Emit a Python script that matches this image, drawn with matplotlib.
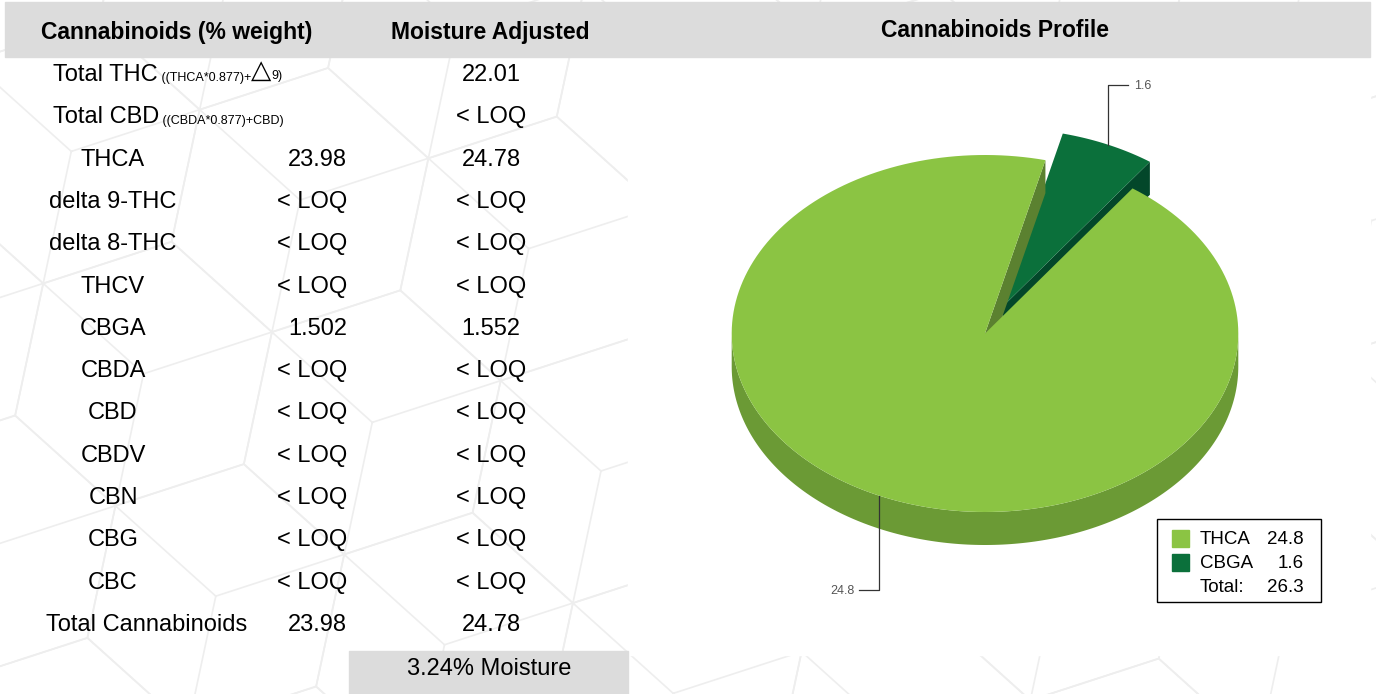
import numpy as np
import matplotlib.pyplot as plt
from matplotlib.patches import Polygon, Rectangle

plt.rcParams['font.family'] = ['Liberation Sans', 'DejaVu Sans']

# ---- table data ----
col_headers = ['Cannabinoids (% weight)', 'Moisture Adjusted']
total_thc = ['Total THC', ' ((THCA*0.877)+', '\u25b3', '9)', '22.01']
total_cbd = ['Total CBD', ' ((CBDA*0.877)+CBD)', '< LOQ']
compounds = ['THCA', 'delta 9-THC', 'delta 8-THC', 'THCV', 'CBGA', 'CBDA',
             'CBD', 'CBDV', 'CBN', 'CBG', 'CBC']
pct_weight = ['23.98', '< LOQ', '< LOQ', '< LOQ', '1.502', '< LOQ',
              '< LOQ', '< LOQ', '< LOQ', '< LOQ', '< LOQ']
moist_adj = ['24.78', '< LOQ', '< LOQ', '< LOQ', '1.552', '< LOQ',
             '< LOQ', '< LOQ', '< LOQ', '< LOQ', '< LOQ']
total_cann = ['Total Cannabinoids', '23.98', '24.78']
moisture = '3.24% Moisture'

# ---- pie data ----
pie_title = 'Cannabinoids Profile'
pie_labels = ['THCA', 'CBGA']
pie_values = [24.8, 1.6]
pie_total = 26.3
pie_top = ['#8bc443', '#0b703b']
pie_side = ['#6b9a35', '#03472a']
pie_face = ['#5b8130', '#03472a']
explode = [0.0, 0.164]

fig = plt.figure(figsize=(13.76, 6.94), dpi=100)
ax = fig.add_axes([0, 0, 1, 1])
ax.set_xlim(0, 1376)
ax.set_ylim(694, 0)
ax.axis('off')

# faint cube pattern in the background
R = 135
rot = np.radians(-18)
def rp(x, y):
    return (x * np.cos(rot) - y * np.sin(rot) + 300,
            x * np.sin(rot) + y * np.cos(rot) + 200)
for i in range(-6, 9):
    for j in range(-6, 9):
        hx = i * 1.5 * R
        hy = j * np.sqrt(3) * R + (i % 2) * np.sqrt(3) / 2 * R
        angs = np.radians(np.arange(0, 361, 60))
        vx = hx + R * np.cos(angs)
        vy = hy + R * np.sin(angs)
        px, py = rp(vx, vy)
        ax.plot(px, py, color='#eeeeee', lw=1.2, zorder=0)
        for k in (0, 2, 4):
            sx, sy = rp(np.array([hx, vx[k]]), np.array([hy, vy[k]]))
            ax.plot(sx, sy, color='#eeeeee', lw=1.2, zorder=0)

# panels
ax.add_patch(Rectangle((628, 57), 742, 598, color='white', zorder=1))
ax.add_patch(Rectangle((5, 2), 1365, 55, color='#dcdcdc', zorder=1))
ax.add_patch(Rectangle((349, 651), 279, 43, color='#dcdcdc', zorder=1))

# ---- table ----
fs = 17
hfs = 16.5
dy = 2
ax.text(177, 30 + dy, col_headers[0], ha='center', va='center', fontsize=hfs,
        fontweight='bold', zorder=3)
ax.text(490, 30 + dy, col_headers[1], ha='center', va='center', fontsize=hfs,
        fontweight='bold', zorder=3)
ax.text(995, 28 + dy, pie_title, ha='center', va='center', fontsize=hfs,
        fontweight='bold', zorder=3)

row_y = 73 + dy
step = 42.3
t0 = ax.text(53, row_y, total_thc[0], ha='left', va='center', fontsize=fs, zorder=3)
t1 = ax.annotate(total_thc[1], xy=(1, 0.08), xycoords=t0, va='bottom',
                 fontsize=9, zorder=3)
t2 = ax.annotate(total_thc[2], xy=(1, 0.0), xycoords=t1, va='bottom',
                 fontsize=19, family=['DejaVu Sans'], zorder=3)
ax.annotate(total_thc[3], xy=(1, 0.08), xycoords=t2, va='bottom',
            fontsize=9, zorder=3)
ax.text(491, row_y, total_thc[4], ha='center', va='center', fontsize=fs, zorder=3)

row_y += step
c0 = ax.text(53, row_y, total_cbd[0], ha='left', va='center', fontsize=fs, zorder=3)
ax.annotate(total_cbd[1], xy=(1, 0.08), xycoords=c0, va='bottom',
            fontsize=9, zorder=3)
ax.text(491, row_y, total_cbd[2], ha='center', va='center', fontsize=fs, zorder=3)

for name, v1, v2 in zip(compounds, pct_weight, moist_adj):
    row_y += step
    ax.text(113, row_y, name, ha='center', va='center', fontsize=fs, zorder=3)
    ax.text(347, row_y, v1, ha='right', va='center', fontsize=fs, zorder=3)
    ax.text(491, row_y, v2, ha='center', va='center', fontsize=fs, zorder=3)

row_y += step
ax.text(147, row_y, total_cann[0], ha='center', va='center', fontsize=fs, zorder=3)
ax.text(347, row_y, total_cann[1], ha='right', va='center', fontsize=fs, zorder=3)
ax.text(491, row_y, total_cann[2], ha='center', va='center', fontsize=fs, zorder=3)

ax.text(489, 667 + dy, moisture, ha='center', va='center', fontsize=fs, zorder=3)

# ---- 3D pie ----
cx, cy = 985, 333.5
rx, ry = 253.3, 178.5
depth = 33
start = 76.2

def arc(ox, oy, a0, a1, dz=0):
    t = np.radians(np.linspace(a0, a1, 200))
    return ox + rx * np.cos(t), oy - ry * np.sin(t) + dz

fracs = np.array(pie_values) / sum(pie_values) * 360
bounds = start + np.concatenate([[0], np.cumsum(fracs)])
slices = []
for i in range(len(pie_values)):
    a0, a1 = bounds[i], bounds[i + 1]
    mid = np.radians((a0 + a1) / 2)
    ox = cx + explode[i] * rx * np.cos(mid)
    oy = cy - explode[i] * ry * np.sin(mid)
    slices.append((i, a0, a1, ox, oy))

def draw_slice(i, a0, a1, ox, oy):
    z = 4 + (1 if explode[i] == 0 else 0) * 2
    # outer wall (front half only)
    for k in range(-1, 2):
        lo = max(a0, 180 + 360 * k)
        hi = min(a1, 360 + 360 * k)
        if hi > lo:
            xt, yt = arc(ox, oy, lo, hi)
            xb, yb = arc(ox, oy, hi, lo, depth)
            ax.add_patch(Polygon(np.column_stack([np.r_[xt, xb], np.r_[yt, yb]]),
                                 closed=True, color=pie_side[i], lw=0, zorder=z))
    # radial faces
    for a, vis in ((a0, np.cos(np.radians(a0)) > 0), (a1, np.cos(np.radians(a1)) < 0)):
        if vis:
            ex = ox + rx * np.cos(np.radians(a))
            ey = oy - ry * np.sin(np.radians(a))
            ax.add_patch(Polygon([[ox, oy], [ex, ey], [ex, ey + depth], [ox, oy + depth]],
                                 closed=True, color=pie_face[i], lw=0, zorder=z))
    # top
    xt, yt = arc(ox, oy, a0, a1)
    ax.add_patch(Polygon(np.column_stack([np.r_[ox, xt], np.r_[oy, yt]]),
                         closed=True, color=pie_top[i], lw=0, zorder=z + 0.5))

for s in sorted(slices, key=lambda s: -explode[s[0]]):
    draw_slice(*s)

# leader labels
for i, a0, a1, ox, oy in slices:
    mid = np.radians((a0 + a1) / 2)
    lx = ox + rx * np.cos(mid)
    ly = oy - ry * np.sin(mid)
    if np.sin(mid) > 0:
        ax.plot([lx, lx, lx + 20], [ly, 85, 85], color='#333333', lw=0.9, zorder=8)
        ax.text(lx + 26, 86, f'{pie_values[i]:.1f}', ha='left', va='center',
                fontsize=9, color='#555555', zorder=8)
    else:
        ax.plot([lx, lx, lx - 20], [ly, 590, 590], color='#333333', lw=0.9, zorder=8)
        ax.text(lx - 25, 591, f'{pie_values[i]:.1f}', ha='right', va='center',
                fontsize=9, color='#555555', zorder=8)

# legend
ax.add_patch(Rectangle((1157, 519), 164, 83, facecolor='white', edgecolor='black',
                       lw=1, zorder=8))
ly = 538
for lab, val, col in zip(pie_labels, pie_values, pie_top):
    ax.add_patch(Rectangle((1172, ly - 8.5), 17, 17, color=col, zorder=9))
    ax.text(1200, ly + 1, lab, ha='left', va='center', fontsize=13.5, zorder=9)
    ax.text(1304, ly + 1, f'{val:.1f}', ha='right', va='center', fontsize=13.5, zorder=9)
    ly += 24
ax.text(1200, ly + 1, 'Total:', ha='left', va='center', fontsize=13.5, zorder=9)
ax.text(1304, ly + 1, f'{pie_total:.1f}', ha='right', va='center', fontsize=13.5, zorder=9)

fig.savefig('out.png', dpi=100)
